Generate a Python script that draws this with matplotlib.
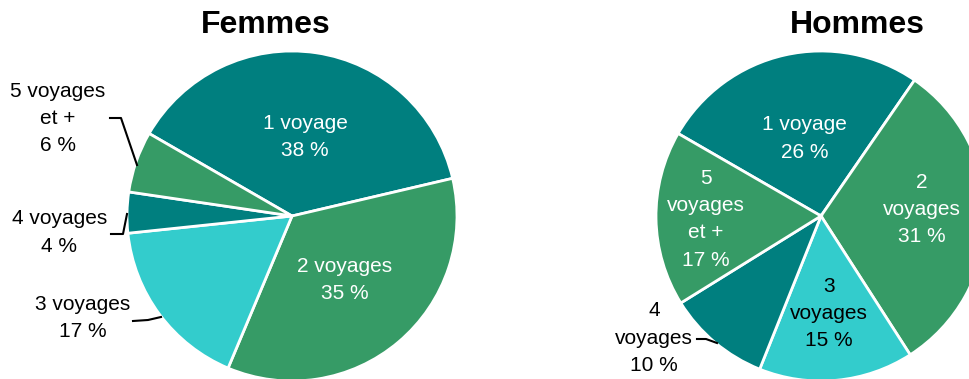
import matplotlib.pyplot as plt

plt.rcParams['font.family'] = ['Liberation Sans', 'DejaVu Sans']

# Nombre de voyages par sexe
categories = ['1 voyage', '2 voyages', '3 voyages', '4 voyages', '5 voyages et +']
femmes = [38, 35, 17, 4, 6]
hommes = [26, 31, 15, 10, 17]

colors = ['#007f7f', '#369b66', '#33cccc', '#007f7f', '#369b66']

# Textes des etiquettes (retours a la ligne)
lab_femmes = ['1 voyage', '2 voyages', '3 voyages', '4 voyages', '5 voyages\net +']
lab_hommes = ['1 voyage', '2\nvoyages', '3\nvoyages', '4\nvoyages', '5\nvoyages\net +']

# position des etiquettes (x, y, couleur)
pos_femmes = [(0.08, 0.48, 'white'), (0.32, -0.39, 'white'), (-1.27, -0.62, 'black'),
              (-1.41, -0.10, 'black'), (-1.42, 0.59, 'black')]
pos_hommes = [(-0.10, 0.47, 'white'), (0.61, 0.04, 'white'), (0.05, -0.59, 'black'),
              (-1.01, -0.74, 'black'), (-0.70, -0.02, 'white')]

W, H = 970, 379
R = 165
fig = plt.figure(figsize=(W / 100, H / 100), dpi=100)


def px(cx, cy):
    return (cx - R) / W, (H - cy - R) / H, 2 * R / W, 2 * R / H


def camembert(cx, cy, valeurs, labels, positions, lignes):
    ax = fig.add_axes(px(cx, cy))
    ax.pie(valeurs, colors=colors, startangle=150, counterclock=False, radius=1,
           wedgeprops=dict(edgecolor='white', linewidth=2))
    for v, lab, (x, y, c) in zip(valeurs, labels, positions):
        ax.text(x, y, f'{lab}\n{v} %', ha='center', va='center', fontsize=15,
                color=c, linespacing=1.55, clip_on=False)
    for pts in lignes:
        xs = [(p[0] - cx) / R for p in pts]
        ys = [(cy - p[1]) / R for p in pts]
        ax.plot(xs, ys, color='black', lw=1.5, clip_on=False)
    ax.set_xlim(-1, 1)
    ax.set_ylim(-1, 1)
    ax.axis('off')
    return ax


camembert(292, 216, femmes, lab_femmes, pos_femmes,
          [[(110, 118), (121, 118), (137, 165)],
           [(111, 234), (123, 234), (127, 214)],
           [(133, 321), (148, 320), (161, 317)]])
camembert(821, 216, hommes, lab_hommes, pos_hommes,
          [[(697, 339), (706, 339), (717, 343)]])

fig.text(266 / W, 1 - 25 / H, 'Femmes', ha='center', va='center', fontsize=23, fontweight='bold')
fig.text(857 / W, 1 - 25 / H, 'Hommes', ha='center', va='center', fontsize=23, fontweight='bold')

fig.savefig('out.png', dpi=100)
